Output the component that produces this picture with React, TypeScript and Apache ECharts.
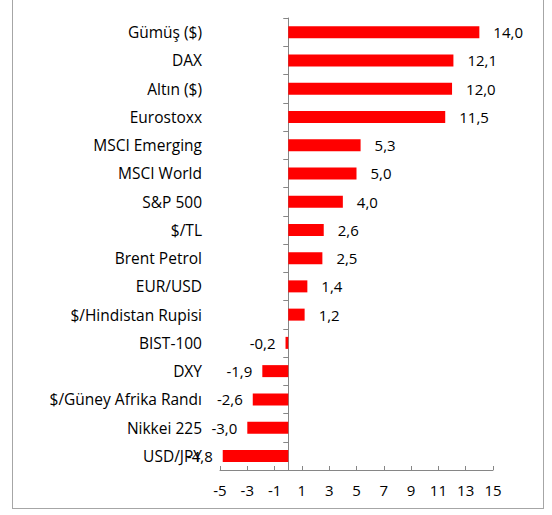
import React, { useEffect, useRef } from "react";
import * as echarts from "echarts";

const categories = [
  "Gümüş ($)",
  "DAX",
  "Altın ($)",
  "Eurostoxx",
  "MSCI Emerging",
  "MSCI World",
  "S&P 500",
  "$/TL",
  "Brent Petrol",
  "EUR/USD",
  "$/Hindistan Rupisi",
  "BIST-100",
  "DXY",
  "$/Güney Afrika Randı",
  "Nikkei 225",
  "USD/JPY",
];
const values = [14.0, 12.1, 12.0, 11.5, 5.3, 5.0, 4.0, 2.6, 2.5, 1.4, 1.2, -0.2, -1.9, -2.6, -3.0, -4.8];
const xMin = -5;
const xMax = 15;
const xInterval = 2;

const FONT = "Open Sans";

export default function App() {
  const ref = useRef<HTMLDivElement>(null);
  useEffect(() => {
    document.body.style.margin = "0";
    const chart = echarts.init(ref.current!, null, { renderer: "svg" });
    const fmt = (v: number) => v.toFixed(1).replace(".", ",");
    chart.setOption({
      animation: false,
      backgroundColor: "#ffffff",
      grid: { left: 220, right: 59, top: 18, bottom: 45, containLabel: false },
      xAxis: {
        type: "value",
        min: xMin,
        max: xMax,
        interval: xInterval,
        splitLine: { show: false },
        axisLine: { show: true, onZero: false, lineStyle: { color: "#868686" } },
        axisTick: { show: true, inside: true, length: 4, lineStyle: { color: "#868686" } },
        axisLabel: {
          color: "#000",
          fontFamily: FONT,
          fontSize: 15,
          margin: 12,
          formatter: (v: number) => String(v),
        },
      },
      yAxis: {
        type: "category",
        data: categories,
        inverse: true,
        axisLine: { show: true, onZero: true, lineStyle: { color: "#868686" } },
        axisTick: { show: true, alignWithLabel: false, length: 5, lineStyle: { color: "#868686" } },
        axisLabel: {
          color: "#000",
          fontFamily: FONT,
          fontSize: 15.5,
          margin: 18,
        },
      },
      series: [
        {
          type: "bar",
          barWidth: 12,
          data: values.map((v) => ({
            value: v,
            label: {
              show: true,
              position: v >= 0 ? "right" : "left",
              distance: v >= 0 ? 14 : 10,
              color: "#000",
              fontFamily: FONT,
              fontSize: 15,
              formatter: () => fmt(v),
            },
          })),
          itemStyle: { color: "#ff0000" },
        },
      ],
    });
    return () => chart.dispose();
  }, []);
  return (
    <div style={{ position: "relative", width: 552, height: 515 }}>
      <div ref={ref} style={{ width: 552, height: 515 }} />
      <div
        style={{
          position: "absolute",
          left: 12,
          top: -5,
          width: 532,
          height: 514,
          border: "1px solid #a6a6a6",
          boxSizing: "border-box",
          pointerEvents: "none",
        }}
      />
    </div>
  );
}
